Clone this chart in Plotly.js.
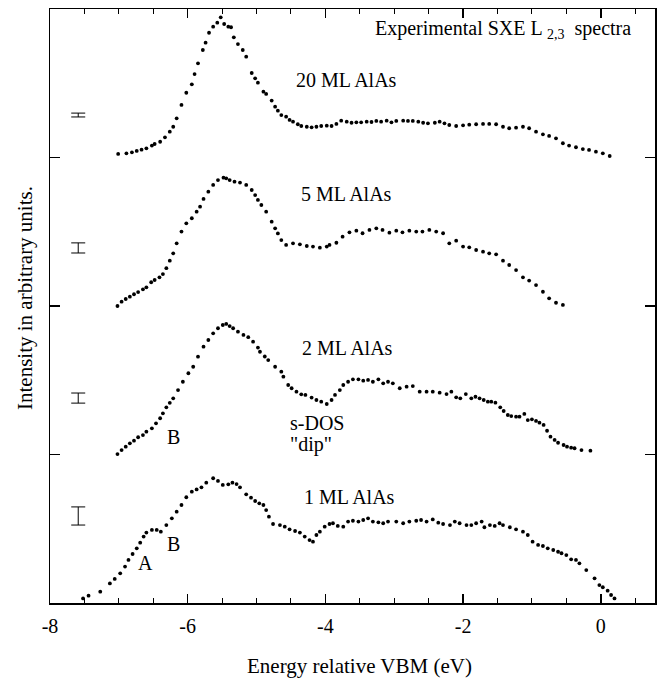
<!DOCTYPE html>
<html>
<head>
<meta charset="utf-8">
<script src="https://cdn.plot.ly/plotly-3.0.1.min.js"></script>
<style>html,body{margin:0;padding:0;background:#fff;}#chart{width:658px;height:679px;}</style>
</head>
<body>
<div id="chart"></div>
<script>
// Energy (eV) and relative intensity for each spectrum; offsets stack them.
const x20 = [-7.01,-6.89,-6.81,-6.74,-6.67,-6.60,-6.52,-6.48,-6.40,-6.33,-6.26,-6.21,-6.16,-6.09,-6.02,-5.94,-5.90,-5.85,-5.78,-5.74,-5.69,-5.63,-5.57,-5.52,-5.47,-5.41,-5.37,-5.33,-5.27,-5.20,-5.15,-5.07,-5.02,-4.98,-4.90,-4.86,-4.78,-4.73,-4.69,-4.64,-4.57,-4.52,-4.47,-4.40,-4.35,-4.27,-4.20,-4.13,-4.06,-3.98,-3.91,-3.84,-3.77,-3.69,-3.62,-3.55,-3.48,-3.40,-3.33,-3.26,-3.19,-3.11,-3.04,-2.97,-2.87,-2.80,-2.73,-2.65,-2.58,-2.51,-2.41,-2.34,-2.27,-2.20,-2.10,-2.00,-1.91,-1.81,-1.71,-1.62,-1.52,-1.42,-1.33,-1.23,-1.13,-1.04,-0.94,-0.84,-0.75,-0.65,-0.55,-0.46,-0.36,-0.26,-0.17,-0.07,0.03,0.13];
const y20 = [0.024,0.028,0.035,0.044,0.053,0.062,0.080,0.091,0.106,0.136,0.174,0.207,0.264,0.354,0.436,0.493,0.562,0.634,0.724,0.773,0.840,0.881,0.908,0.944,0.899,0.881,0.877,0.809,0.764,0.724,0.679,0.569,0.533,0.504,0.443,0.428,0.383,0.342,0.315,0.286,0.275,0.253,0.241,0.224,0.212,0.207,0.203,0.207,0.212,0.214,0.212,0.226,0.248,0.241,0.234,0.237,0.237,0.241,0.239,0.246,0.241,0.248,0.237,0.246,0.248,0.246,0.246,0.241,0.234,0.230,0.234,0.241,0.230,0.219,0.212,0.217,0.221,0.224,0.226,0.226,0.224,0.207,0.197,0.201,0.207,0.197,0.174,0.156,0.145,0.129,0.096,0.080,0.069,0.057,0.051,0.039,0.028,0.010];

const x5 = [-7.02,-6.96,-6.90,-6.84,-6.78,-6.72,-6.65,-6.60,-6.53,-6.48,-6.41,-6.36,-6.31,-6.26,-6.21,-6.16,-6.09,-6.02,-5.94,-5.87,-5.82,-5.77,-5.70,-5.63,-5.56,-5.48,-5.44,-5.39,-5.32,-5.24,-5.15,-5.07,-5.02,-4.98,-4.93,-4.86,-4.78,-4.73,-4.69,-4.64,-4.57,-4.47,-4.37,-4.27,-4.18,-4.08,-3.98,-3.94,-3.84,-3.75,-3.65,-3.55,-3.46,-3.36,-3.26,-3.17,-3.07,-2.97,-2.88,-2.78,-2.68,-2.59,-2.49,-2.39,-2.29,-2.20,-2.10,-2.00,-1.91,-1.81,-1.71,-1.62,-1.52,-1.42,-1.33,-1.23,-1.13,-1.04,-0.94,-0.84,-0.75,-0.65,-0.55];
const y5 = [0.000,0.029,0.047,0.063,0.079,0.094,0.112,0.126,0.160,0.175,0.193,0.215,0.255,0.305,0.355,0.422,0.501,0.557,0.591,0.635,0.669,0.721,0.770,0.815,0.848,0.864,0.860,0.848,0.837,0.831,0.815,0.781,0.747,0.714,0.680,0.635,0.568,0.523,0.489,0.444,0.411,0.422,0.415,0.404,0.400,0.393,0.400,0.411,0.426,0.467,0.496,0.507,0.490,0.512,0.523,0.512,0.494,0.507,0.496,0.507,0.501,0.501,0.512,0.501,0.490,0.422,0.440,0.400,0.395,0.377,0.366,0.355,0.348,0.305,0.276,0.242,0.193,0.171,0.141,0.096,0.052,0.022,0.007];

const x2 = [-7.02,-6.96,-6.90,-6.84,-6.78,-6.72,-6.65,-6.60,-6.52,-6.46,-6.40,-6.36,-6.31,-6.26,-6.21,-6.14,-6.07,-5.99,-5.92,-5.85,-5.77,-5.70,-5.63,-5.56,-5.49,-5.44,-5.39,-5.34,-5.27,-5.19,-5.12,-5.05,-4.98,-4.95,-4.88,-4.83,-4.73,-4.64,-4.61,-4.54,-4.49,-4.42,-4.35,-4.29,-4.20,-4.13,-4.06,-3.98,-3.91,-3.86,-3.79,-3.74,-3.67,-3.60,-3.52,-3.45,-3.38,-3.31,-3.23,-3.16,-3.09,-3.02,-2.92,-2.82,-2.73,-2.63,-2.53,-2.44,-2.34,-2.24,-2.17,-2.10,-2.04,-1.96,-1.88,-1.82,-1.76,-1.70,-1.64,-1.59,-1.53,-1.46,-1.41,-1.35,-1.30,-1.23,-1.18,-1.11,-1.06,-1.00,-0.94,-0.89,-0.83,-0.78,-0.73,-0.67,-0.62,-0.54,-0.49,-0.43,-0.38,-0.28,-0.15];
const y2 = [0.003,0.030,0.053,0.075,0.093,0.116,0.131,0.154,0.176,0.210,0.244,0.277,0.318,0.348,0.378,0.434,0.490,0.547,0.591,0.659,0.726,0.771,0.816,0.850,0.872,0.879,0.865,0.850,0.827,0.805,0.790,0.760,0.720,0.692,0.660,0.636,0.591,0.558,0.524,0.468,0.446,0.423,0.405,0.401,0.383,0.367,0.356,0.340,0.367,0.401,0.434,0.468,0.490,0.506,0.506,0.497,0.502,0.490,0.506,0.479,0.490,0.479,0.446,0.457,0.461,0.423,0.423,0.423,0.416,0.407,0.423,0.385,0.378,0.407,0.378,0.389,0.378,0.367,0.356,0.356,0.349,0.318,0.293,0.266,0.259,0.255,0.255,0.273,0.232,0.237,0.226,0.214,0.199,0.160,0.120,0.098,0.079,0.064,0.053,0.046,0.042,0.030,0.026];

const x1 = [-7.52,-7.44,-7.27,-7.13,-7.06,-6.98,-6.91,-6.86,-6.80,-6.74,-6.69,-6.64,-6.60,-6.52,-6.45,-6.39,-6.31,-6.23,-6.16,-6.09,-6.02,-5.94,-5.87,-5.80,-5.73,-5.63,-5.56,-5.49,-5.41,-5.35,-5.29,-5.24,-5.15,-5.08,-5.02,-4.96,-4.90,-4.86,-4.82,-4.76,-4.66,-4.59,-4.52,-4.44,-4.37,-4.30,-4.23,-4.18,-4.13,-4.08,-4.01,-3.94,-3.89,-3.82,-3.74,-3.67,-3.60,-3.52,-3.45,-3.38,-3.31,-3.23,-3.16,-3.09,-2.97,-2.87,-2.78,-2.68,-2.61,-2.53,-2.44,-2.36,-2.29,-2.19,-2.12,-2.05,-1.95,-1.88,-1.81,-1.73,-1.69,-1.61,-1.54,-1.47,-1.42,-1.32,-1.23,-1.13,-1.06,-0.99,-0.91,-0.84,-0.77,-0.69,-0.62,-0.57,-0.50,-0.43,-0.36,-0.31,-0.21,-0.09,-0.02,0.03,0.10,0.15,0.20];
const y1 = [0.031,0.049,0.076,0.132,0.162,0.200,0.245,0.290,0.330,0.368,0.406,0.447,0.474,0.492,0.492,0.480,0.525,0.570,0.615,0.660,0.712,0.750,0.765,0.779,0.810,0.840,0.822,0.795,0.799,0.810,0.801,0.779,0.732,0.709,0.687,0.671,0.660,0.626,0.581,0.532,0.525,0.514,0.496,0.485,0.474,0.447,0.424,0.413,0.458,0.480,0.514,0.532,0.537,0.519,0.514,0.548,0.554,0.548,0.559,0.570,0.548,0.543,0.537,0.548,0.548,0.537,0.548,0.554,0.559,0.548,0.563,0.541,0.532,0.525,0.548,0.537,0.525,0.525,0.537,0.548,0.510,0.525,0.519,0.537,0.525,0.510,0.496,0.480,0.458,0.413,0.391,0.384,0.368,0.357,0.345,0.335,0.323,0.294,0.290,0.267,0.222,0.166,0.121,0.106,0.083,0.054,0.031];

const seriesNames = ["20 ML AlAs", "5 ML AlAs", "2 ML AlAs", "1 ML AlAs"];
const offsets = [3, 2, 1, 0];

// Error bars drawn at the left of each spectrum
const errX = [-7.59, -7.59, -7.59, -7.59];
const errY = [3.286, 2.391, 1.380, 0.586];
const errHalf = [0.013, 0.034, 0.034, 0.061];

const xTickVals = [-8, -6, -4, -2, 0];
const xTickText = ["-8", "-6", "-4", "-2", "0"];

const FONT = "'Liberation Serif', 'DejaVu Serif', serif";

const xs = [x20, x5, x2, x1];
const ys = [y20, y5, y2, y1];
const traces = xs.map((xx, i) => ({
  type: "scatter", mode: "markers", name: seriesNames[i],
  x: xx, y: ys[i].map(v => v + offsets[i]),
  marker: {color: "#000", size: 3.8, symbol: "circle"},
  hoverinfo: "x+y"
}));
traces.push({
  type: "scatter", mode: "markers", x: errX, y: errY,
  marker: {size: 1, color: "rgba(0,0,0,0)"},
  error_y: {type: "data", array: errHalf, visible: true, color: "#000", thickness: 1, width: 7},
  hoverinfo: "skip"
});

const ann = (text, x, y, extra) => Object.assign({
  text: text, x: x, y: y, xref: "x", yref: "y", showarrow: false,
  font: {family: FONT, size: 20, color: "#000"}, xanchor: "center", yanchor: "middle"
}, extra || {});

const annotations = [
  ann("Experimental SXE L <sub>2,3</sub>  spectra", 0.47, 3.86, {xanchor: "right"}),
  ann(seriesNames[0], -3.69, 3.52),
  ann(seriesNames[1], -3.69, 2.754),
  ann(seriesNames[2], -3.68, 1.717),
  ann(seriesNames[3], -3.65, 0.714),
  ann("s-DOS", -4.545, 1.212, {xanchor: "left"}),
  ann("\"dip\"", -4.545, 1.068, {xanchor: "left"}),
  ann("B", -6.20, 1.118),
  ann("B", -6.20, 0.397),
  ann("A", -6.61, 0.269),
  {text: "Energy relative VBM (eV)", xref: "paper", yref: "paper", x: 0.511, y: 0, yshift: -63,
   xanchor: "center", yanchor: "middle", showarrow: false, font: {family: FONT, size: 21, color: "#000"}},
  {text: "Intensity in arbitrary units.", xref: "paper", yref: "paper", x: -0.0413, y: 0.5135, textangle: -90,
   xanchor: "center", yanchor: "middle", showarrow: false, font: {family: FONT, size: 21, color: "#000"}}
];

const layout = {
  width: 658, height: 679,
  margin: {l: 50, r: 3, t: 9, b: 76},
  paper_bgcolor: "#fff", plot_bgcolor: "#fff",
  showlegend: false,
  font: {family: FONT, size: 20, color: "#000"},
  xaxis: {
    range: [-8, 0.788], tickvals: xTickVals, ticktext: xTickText,
    ticks: "inside", ticklen: 9, tickwidth: 1.5, tickcolor: "#000",
    minor: {dtick: 0.5, tick0: 0, ticks: "inside", ticklen: 5, tickwidth: 1, tickcolor: "#000"},
    showline: true, linecolor: "#000", linewidth: 1.5, mirror: "allticks",
    showgrid: false, zeroline: false, ticklabelstandoff: 4,
    tickfont: {family: FONT, size: 20, color: "#000"}
  },
  yaxis: {
    range: [0, 4], tickvals: [1, 2, 3], showticklabels: false,
    ticks: "inside", ticklen: 10, tickwidth: 1.5, tickcolor: "#000",
    showline: true, linecolor: "#000", linewidth: 1.5, mirror: "allticks",
    showgrid: false, zeroline: false
  },
  annotations: annotations
};

Plotly.newPlot("chart", traces, layout, {displayModeBar: false, staticPlot: true});
</script>
</body>
</html>
